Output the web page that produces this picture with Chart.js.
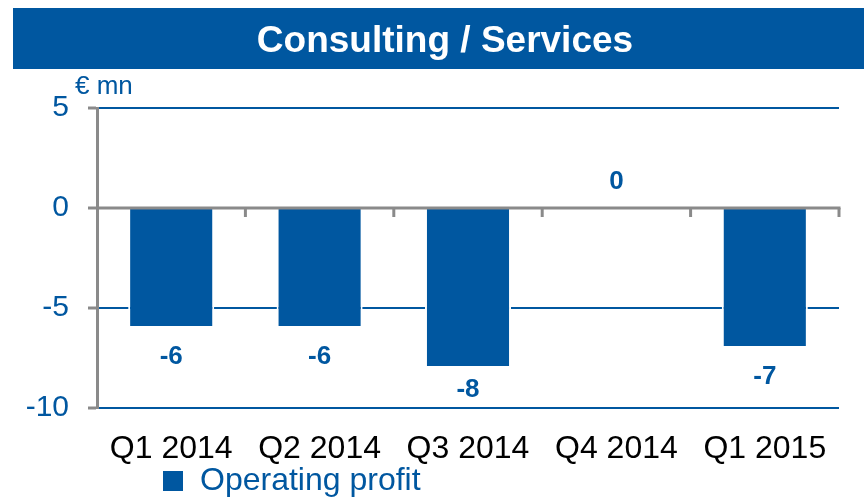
<!DOCTYPE html>
<html>
<head>
<meta charset="utf-8">
<script src="https://cdn.jsdelivr.net/npm/chart.js@4/dist/chart.umd.min.js"></script>
<style>
html,body{margin:0;padding:0;background:#fff;}
#wrap{width:864px;height:499px;}
</style>
</head>
<body>
<div id="wrap"><canvas id="c" width="864" height="499"></canvas></div>
<script>
const categories = ["Q1 2014", "Q2 2014", "Q3 2014", "Q4 2014", "Q1 2015"];
const operatingProfit = [-6, -6, -8, 0, -7];
const yTicks = [5, 0, -5, -10];
const seriesName = "Operating profit";
const chartTitle = "Consulting / Services";
const unitLabel = "€ mn";

const BLUE = "#0057A0";
const GRAY = "#8a8a8a";
const FONT = "'Liberation Sans', Arial, sans-serif";

const deco = {
  id: "deco",
  afterLayout(chart) {
    if (chart.titleBlock) { chart.titleBlock.left = 26; chart.titleBlock.right = chart.width; }
    if (chart.legend) {
      const w = chart.legend.right - chart.legend.left;
      const h = chart.legend.bottom - chart.legend.top;
      chart.legend.left = 162; chart.legend.right = 162 + w;
      chart.legend.top = 486 - h / 2; chart.legend.bottom = chart.legend.top + h;
    }
    if (chart.scales.x) { chart.scales.x.bottom = chart.height; }
  },
  beforeDraw(chart) {
    const ctx = chart.ctx;
    ctx.save();
    ctx.fillStyle = BLUE;
    ctx.fillRect(13, 8, chart.width - 13, 61);
    ctx.fillStyle = BLUE;
    ctx.font = "26px " + FONT;
    ctx.textAlign = "left";
    ctx.textBaseline = "middle";
    ctx.fillText(unitLabel, 75, 87);
    ctx.restore();
  },
  afterDatasetsDraw(chart) {
    const ctx = chart.ctx;
    const xs = chart.scales.x, ys = chart.scales.y;
    const area = chart.chartArea;
    const y0 = ys.getPixelForValue(0);
    ctx.save();
    ctx.strokeStyle = GRAY;
    ctx.lineWidth = 3;
    ctx.beginPath();
    ctx.moveTo(area.left, y0);
    ctx.lineTo(area.right + 1.5, y0);
    ctx.stroke();
    const half = (xs.getPixelForTick(1) - xs.getPixelForTick(0)) / 2;
    for (let i = 0; i < categories.length; i++) {
      const bx = xs.getPixelForTick(i) + half;
      ctx.beginPath();
      ctx.moveTo(bx, y0);
      ctx.lineTo(bx, y0 + 9);
      ctx.stroke();
    }
    const meta = chart.getDatasetMeta(0);
    ctx.fillStyle = BLUE;
    ctx.font = "bold 26px " + FONT;
    ctx.textAlign = "center";
    ctx.textBaseline = "middle";
    meta.data.forEach((bar, i) => {
      const v = operatingProfit[i];
      let y;
      if (v < 0) y = Math.min(bar.y + 29, area.bottom - 18);
      else y = bar.y - 26;
      ctx.fillText(String(v), bar.x, y);
    });
    ctx.restore();
  }
};

new Chart(document.getElementById("c"), {
  type: "bar",
  data: {
    labels: categories,
    datasets: [{
      label: seriesName,
      data: operatingProfit,
      backgroundColor: BLUE,
      borderColor: "#ffffff",
      borderWidth: 2,
      borderSkipped: "start",
      categoryPercentage: 1,
      barPercentage: 0.58
    }]
  },
  options: {
    responsive: false,
    animation: false,
    layout: { padding: { left: 0, right: 25, top: 0, bottom: 0 } },
    plugins: {
      title: {
        display: true,
        text: chartTitle,
        color: "#ffffff",
        font: { family: FONT, size: 37, weight: "bold" },
        padding: { top: 20, bottom: 43.6 }
      },
      legend: {
        display: true,
        position: "bottom",
        align: "start",
        labels: {
          color: BLUE,
          font: { family: FONT, size: 32 },
          boxWidth: 22,
          boxHeight: 22,
          padding: 0
        }
      },
      tooltip: { enabled: false }
    },
    scales: {
      x: {
        grid: { display: false },
        border: { display: false },
        ticks: {
          color: "#000000",
          font: { family: FONT, size: 32 },
          padding: 14,
          maxRotation: 0
        },
        afterFit(s) { s.height = 49; }
      },
      y: {
        min: -10,
        max: 5,
        afterBuildTicks(s) { s.ticks = yTicks.map(v => ({ value: v })); },
        grid: {
          color: ctx => (ctx.tick && ctx.tick.value === 0) ? "rgba(0,0,0,0)" : BLUE,
          lineWidth: 2,
          tickColor: GRAY,
          tickLength: 9,
          tickWidth: 3
        },
        border: { display: true, color: GRAY, width: 3 },
        ticks: {
          color: BLUE,
          font: { family: FONT, size: 30 },
          padding: 19
        },
        afterFit(s) { s.width = 97; }
      }
    }
  },
  plugins: [deco]
});
</script>
</body>
</html>
